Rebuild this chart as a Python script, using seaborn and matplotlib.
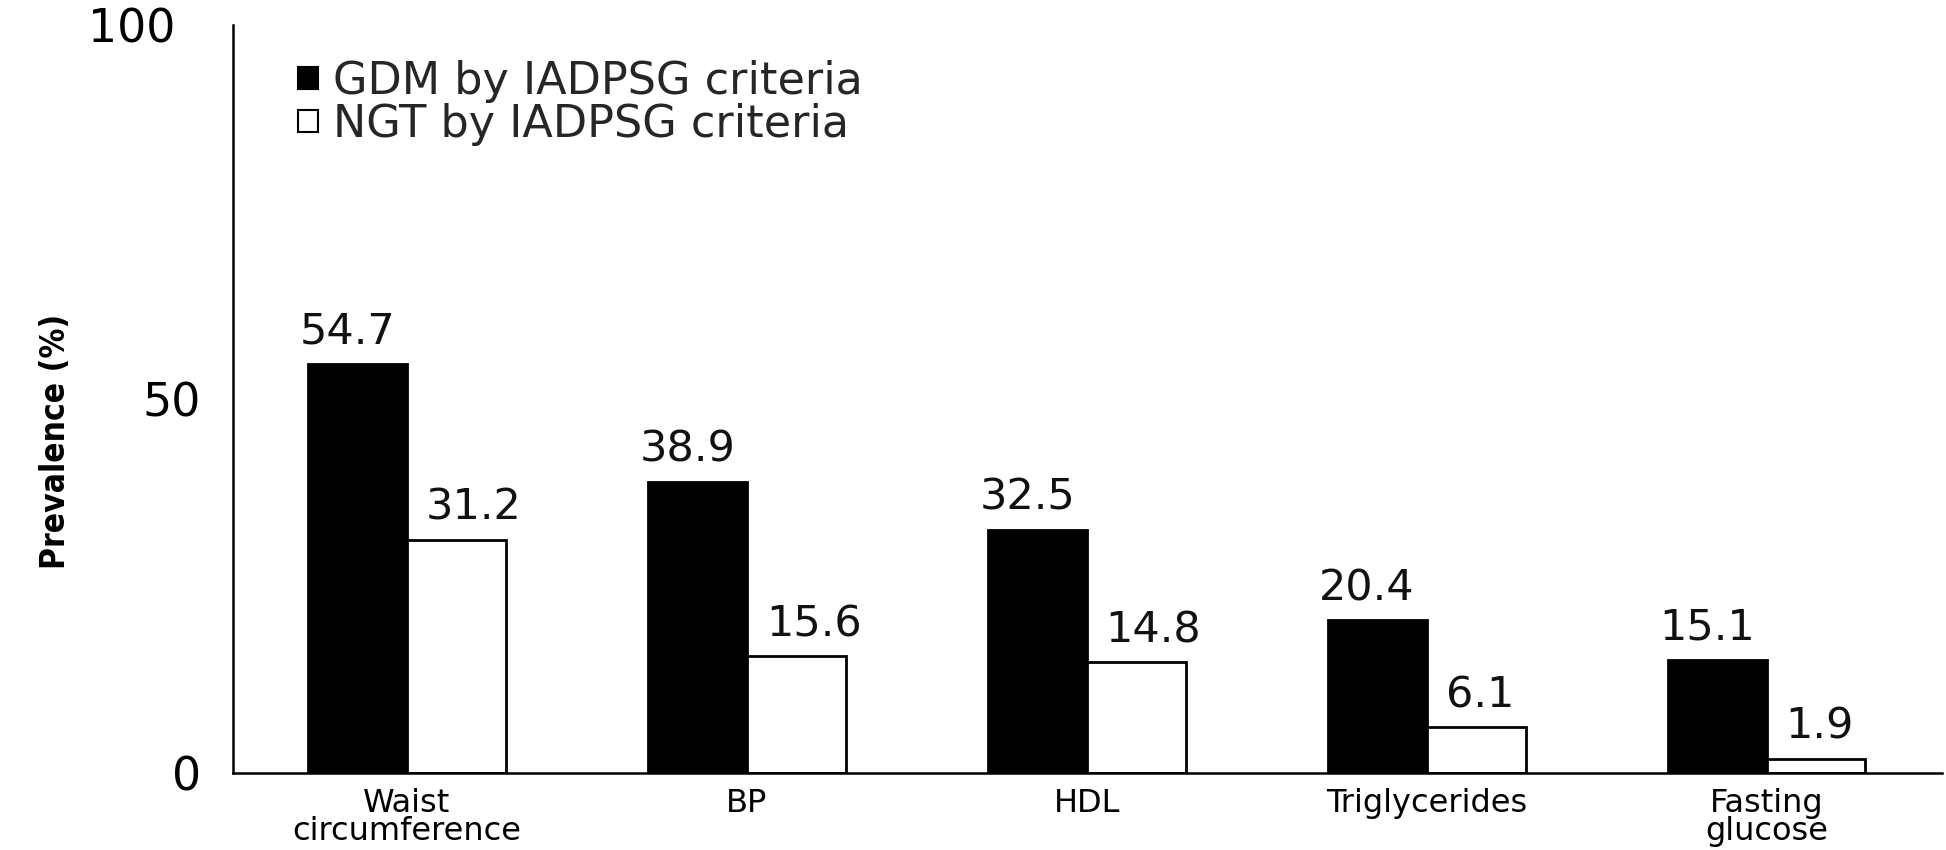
import matplotlib
matplotlib.use("Agg")
import matplotlib.pyplot as plt
from matplotlib.patches import Patch
from matplotlib.transforms import ScaledTranslation
import pandas as pd
import seaborn as sns

# Metabolic syndrome components by glucose tolerance status
categories = ["Waist\ncircumference", "BP", "HDL", "Triglycerides", "Fasting\nglucose"]
gdm_values = [54.7, 38.9, 32.5, 20.4, 15.1]
ngt_values = [31.2, 15.6, 14.8, 6.1, 1.9]
groups = ["GDM by IADPSG criteria", "NGT by IADPSG criteria"]
group_colors = ["black", "white"]
y_ticks = [0, 50, 100]

df = pd.DataFrame({
    "category": categories * 2,
    "prevalence": gdm_values + ngt_values,
    "group": [groups[0]] * len(categories) + [groups[1]] * len(categories),
})

sns.set_theme(style="white")
plt.rcParams["font.family"] = ["DejaVu Sans"]

fig = plt.figure(figsize=(19.46, 8.5), dpi=100)
ax = fig.add_axes([0.11973, 0.09059, 0.87821, 0.88])

sns.barplot(
    data=df, x="category", y="prevalence", hue="group",
    hue_order=groups, order=categories,
    palette=dict(zip(groups, group_colors)),
    edgecolor="black", linewidth=2.0, width=0.58,
    errorbar=None, legend=False, saturation=1, ax=ax,
)

# value labels start near each bar's left edge (GDM slightly left, NGT inset)
label_offsets = [-6.5, 13.5]
for container, dx in zip(ax.containers, label_offsets):
    for bar, value in zip(container.patches, container.datavalues):
        ax.annotate(f"{value:.1f}", xy=(bar.get_x(), bar.get_height()),
                    xytext=(dx, 8), textcoords="offset points",
                    ha="left", va="bottom", fontsize=31, color="#111111")

ax.set_xlim(-0.512, 4.515)
ax.set_ylim(0, 100)
ax.set_yticks(y_ticks)
ax.set_yticklabels([str(t) for t in y_ticks])

sns.despine(ax=ax)
for side in ("left", "bottom"):
    ax.spines[side].set_linewidth(1.8)
    ax.spines[side].set_color("black")

ax.tick_params(axis="y", which="major", direction="in", length=12, width=1.8,
               pad=23, labelsize=33, colors="black")
ax.tick_params(axis="x", which="major", length=0, pad=11, labelsize=23,
               colors="black")
for lbl in ax.get_xticklabels():
    lbl.set_linespacing(0.86)

# small end cap at the right end of the category axis
ax.set_xticks([ax.get_xlim()[1]], minor=True)
ax.tick_params(axis="x", which="minor", direction="in", length=5, width=1.8,
               color="black")

ax.set_xlabel("")
ax.set_ylabel("Prevalence (%)", fontsize=24, fontweight="bold", color="black",
              fontstretch="condensed")
ax.yaxis.label.set_verticalalignment("center")
ax.yaxis.set_label_coords(-0.1036, 0.444)

# top tick label sits a little further left
top_label = ax.get_yticklabels()[-1]
top_label.set_transform(top_label.get_transform()
                        + ScaledTranslation(-0.26, 0, fig.dpi_scale_trans))

handles = [Patch(facecolor=c, edgecolor="black", linewidth=1.5) for c in group_colors]
ax.legend(handles, groups, loc="upper left", bbox_to_anchor=(0.038, 0.953),
          frameon=False, fontsize=32, borderpad=0, borderaxespad=0,
          handlelength=0.45, handleheight=0.4, handletextpad=0.35,
          labelspacing=0.0)

fig.savefig("out.png", dpi=100, facecolor="white")
